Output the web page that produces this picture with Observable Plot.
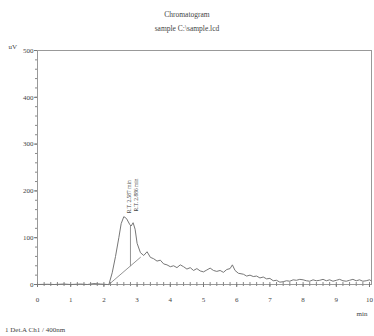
<!DOCTYPE html>
<html>
<head>
<meta charset="utf-8">
<script src="https://cdn.jsdelivr.net/npm/d3@7"></script>
<script src="https://cdn.jsdelivr.net/npm/@observablehq/plot@0.6"></script>
<style>
  html, body { margin: 0; padding: 0; background: #fff; overflow: hidden; }
  body { width: 374px; height: 336px; font-family: "Liberation Serif", "DejaVu Serif", serif; color: #444; }
  #title { height: 36px; padding-top: 8px; box-sizing: border-box; text-align: center; font-size: 7.5px; line-height: 14px; }
  #footer { height: 14px; padding: 3px 0 0 5px; box-sizing: border-box; font-size: 7px; line-height: 10px; }
  svg { display: block; }
</style>
</head>
<body>
<div id="title"><div>Chromatogram</div><div>sample C:\sample.lcd</div></div>
<div id="chart"></div>
<div id="footer">1 Det.A Ch1 / 400nm</div>
<script>
// Signal (time in min, response in uV)
const timeMin = [0.0,0.3,0.5,0.8,1.0,1.3,1.5,1.7,1.9,2.1,2.15,2.25,2.35,2.45,2.52,2.6,2.68,2.78,2.82,2.88,2.94,3.0,3.1,3.2,3.3,3.4,3.5,3.6,3.7,3.8,3.9,4.0,4.1,4.2,4.3,4.4,4.5,4.6,4.7,4.8,4.9,5.0,5.1,5.2,5.3,5.4,5.5,5.6,5.7,5.8,5.87,5.95,6.05,6.2,6.3,6.4,6.5,6.6,6.7,6.8,6.9,7.0,7.1,7.2,7.3,7.4,7.5,7.6,7.7,7.8,7.9,8.0,8.1,8.2,8.3,8.4,8.5,8.6,8.7,8.8,8.9,9.0,9.1,9.2,9.3,9.4,9.5,9.6,9.7,9.8,9.9,10.0,10.05];
const response = [0,0.5,0,1,0,1,0,2,1,0,0,25,60,100,130,145,141,128,125,132,118,88,68,62,70,58,55,50,52,44,42,38,40,36,42,38,33,36,30,34,29,27,31,35,30,28,30,26,32,34,42,30,24,22,18,20,17,18,14,16,12,13,8,9,5,6,8,7,10,9,11,10,8,7,10,8,9,11,8,10,7,9,11,8,7,9,11,8,10,7,8,10,8];

// Integration baseline and drop line
const baseT = [2.15, 3.1];
const baseV = [0, 58];
const dropT = [2.8, 2.8];
const dropV = [40, 126];

// Peak labels
const peakT = [2.76, 2.98];
const peakV = [152, 156];
const peakText = ["R.T. 2.587 min", "R.T. 2.886 min"];

// Axis ticks
const xMajor = [0,1,2,3,4,5,6,7,8,9,10];
const xMinor = d3.range(0, 10.001, 0.2).map(v => +v.toFixed(1));
const yMajor = [0,100,200,300,400,500];
const yMinor = d3.range(0, 501, 20);

const signal = timeMin.map((t, i) => ({t, v: response[i]}));
const baseline = baseT.map((t, i) => ({t, v: baseV[i]}));
const drop = dropT.map((t, i) => ({t, v: dropV[i]}));
const peaks = peakT.map((t, i) => ({t, v: peakV[i], label: peakText[i]}));

const ink = "#444";
const chart = Plot.plot({
  width: 374,
  height: 286,
  marginTop: 14,
  marginLeft: 37,
  marginRight: 3,
  marginBottom: 38,
  style: {fontFamily: "Liberation Serif, serif", color: ink, background: "#fff"},
  x: {domain: [0, 10.06], axis: null},
  y: {domain: [0, 500], axis: null},
  marks: [
    Plot.frame({stroke: "#999"}),
    Plot.axisY(yMinor, {tickSize: 2, text: null, label: null, stroke: "#888"}),
    Plot.axisY(yMajor, {tickSize: 3, tickPadding: 1, fontSize: 7, label: null, stroke: "#777"}),
    Plot.axisX(xMinor, {tickSize: 2, text: null, label: null, stroke: "#888"}),
    Plot.axisX(xMinor, {tickSize: -2, text: null, label: null, stroke: "#888"}),
    Plot.axisX(xMajor, {tickSize: 3, tickPadding: 10, fontSize: 7, label: null, stroke: "#777"}),
    Plot.line(baseline, {x: "t", y: "v", stroke: "#888", strokeWidth: 0.9}),
    Plot.line(drop, {x: "t", y: "v", stroke: "#888", strokeWidth: 0.9}),
    Plot.line(signal, {x: "t", y: "v", stroke: "#777", strokeWidth: 1}),
    Plot.text(peaks, {x: "t", y: "v", text: "label", rotate: -90, textAnchor: "start", fontSize: 5.5, fill: ink}),
    Plot.text(["uV"], {frameAnchor: "top-left", dx: -29, dy: -6, fontSize: 7, fill: ink}),
    Plot.text(["min"], {frameAnchor: "bottom-right", dx: -4, dy: 31, fontSize: 7, fill: ink})
  ]
});
document.getElementById("chart").appendChild(chart);
</script>
</body>
</html>
